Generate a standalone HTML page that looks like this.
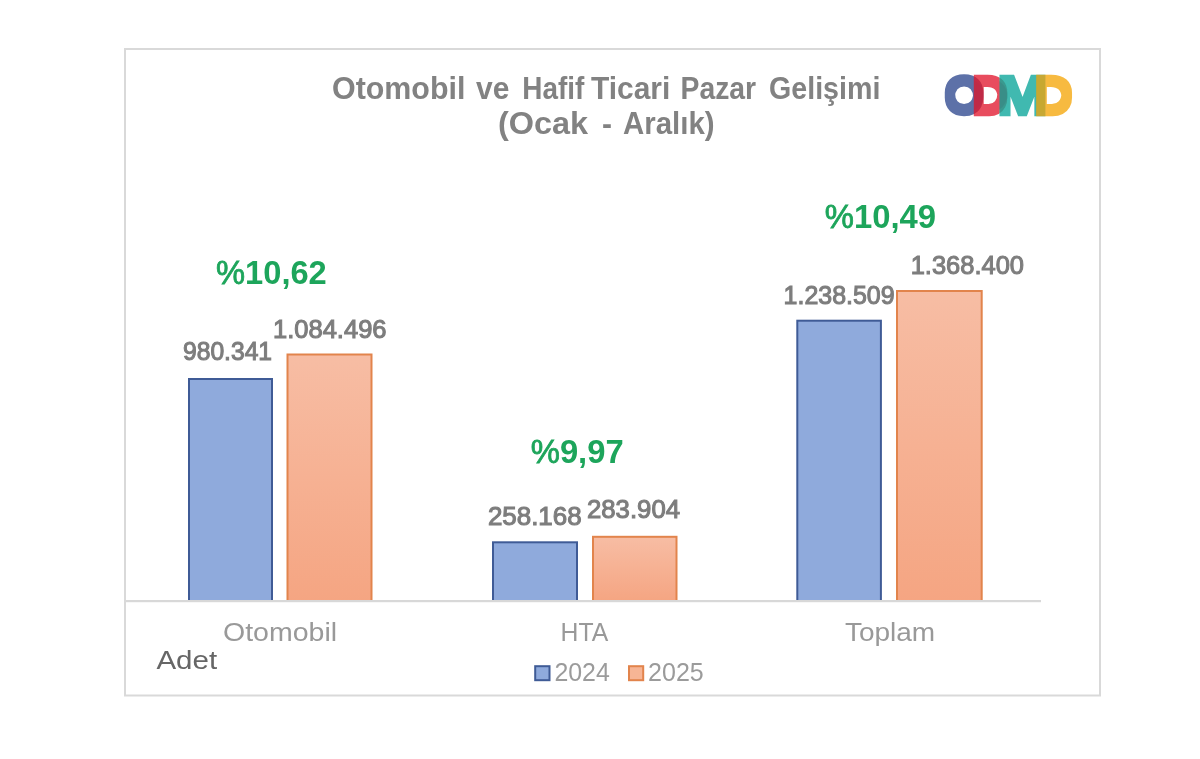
<!DOCTYPE html>
<html lang="tr">
<head>
<meta charset="utf-8">
<title>Otomobil ve Hafif Ticari Pazar Gelişimi</title>
<style>
html,body{margin:0;padding:0;background:#fff;}
body{width:1200px;height:759px;overflow:hidden;position:relative;font-family:"Liberation Sans",sans-serif;}
svg{position:absolute;left:0;top:0;display:block;filter:blur(.45px);}
text{font-family:"Liberation Sans",sans-serif;}
.title{font-weight:bold;font-size:31px;fill:#828282;}
.val{font-weight:normal;font-size:26.5px;fill:#7d7d7d;stroke:#7d7d7d;stroke-width:1.1px;}
.pct{font-weight:bold;font-size:33.5px;fill:#1da55b;}
.pc{font-weight:normal;stroke:#1da55b;stroke-width:.8px;}
.cat{font-size:26px;fill:#999999;}
.leg{font-size:26.5px;fill:#9b9b9b;}
.adet{font-size:25px;fill:#666666;}
.logo{font-weight:bold;font-size:49.2px;stroke-width:2.6px;stroke-linejoin:miter;}
.lo{fill:#5d71a8;stroke:#5d71a8;}
.ld1{fill:#e01626;stroke:#e01626;opacity:.75;}
.lm{fill:#00a296;stroke:#00a296;opacity:.75;}
.ld2{fill:#f4a306;stroke:#f4a306;opacity:.75;}
</style>
</head>
<body>
<svg width="1200" height="759" viewBox="0 0 1200 759">
  <defs>
    <linearGradient id="og" x1="0" y1="0" x2="0" y2="1">
      <stop offset="0" stop-color="#f7bda4"/>
      <stop offset="1" stop-color="#f5a582"/>
    </linearGradient>
    <filter id="fat" filterUnits="userSpaceOnUse" x="930" y="60" width="160" height="70">
      <feMorphology operator="dilate" radius="0 2"/>
    </filter>
  </defs>
  <rect x="0" y="0" width="1200" height="759" fill="#ffffff"/>
  <!-- frame -->
  <rect x="125" y="49" width="975" height="646.5" fill="#ffffff" stroke="#d9d9d9" stroke-width="2"/>

  <!-- bars -->
  <rect x="189" y="379" width="83" height="222" fill="#8faadc" stroke="#3f5b96" stroke-width="2"/>
  <rect x="287.5" y="354.5" width="84" height="246.5" fill="url(#og)" stroke="#e2844c" stroke-width="2"/>
  <rect x="493" y="542.3" width="84" height="58.7" fill="#8faadc" stroke="#3f5b96" stroke-width="2"/>
  <rect x="593" y="536.8" width="83.5" height="64.2" fill="url(#og)" stroke="#e2844c" stroke-width="2"/>
  <rect x="797.3" y="320.7" width="83.6" height="280.3" fill="#8faadc" stroke="#3f5b96" stroke-width="2"/>
  <rect x="897" y="291" width="84.7" height="310" fill="url(#og)" stroke="#e2844c" stroke-width="2"/>
  <!-- axis line -->
  <rect x="126" y="600" width="915" height="2.2" fill="#d8d8d8"/>

  <!-- legend swatches -->
  <rect x="535.2" y="666.2" width="14.3" height="14" fill="#8faadc" stroke="#3f5b96" stroke-width="2"/>
  <rect x="629" y="666.2" width="14.2" height="14" fill="#f7b595" stroke="#e2844c" stroke-width="2"/>

  <!-- text -->
  <text id="title1"><tspan id="t1" class="title" x="332.00" y="98.75" textLength="133.33" lengthAdjust="spacingAndGlyphs">Otomobil</tspan> <tspan id="t2" class="title" x="476.00" y="98.75" textLength="33.38" lengthAdjust="spacingAndGlyphs">ve</tspan> <tspan id="t3" class="title" x="522.25" y="98.75" textLength="61.98" lengthAdjust="spacingAndGlyphs">Hafif</tspan> <tspan id="t4" class="title" x="591.00" y="98.75" textLength="79.33" lengthAdjust="spacingAndGlyphs">Ticari</tspan> <tspan id="t5" class="title" x="680.50" y="98.75" textLength="75.62" lengthAdjust="spacingAndGlyphs">Pazar</tspan> <tspan id="t6" class="title" x="769.00" y="98.75" textLength="111.35" lengthAdjust="spacingAndGlyphs">Gelişimi</tspan></text>
  <text id="title2"><tspan id="u1" class="title" x="498.00" y="134.3" textLength="90.13" lengthAdjust="spacingAndGlyphs">(Ocak</tspan> <tspan id="u2" class="title" x="602.00" y="134.3" textLength="10.00" lengthAdjust="spacingAndGlyphs">-</tspan> <tspan id="u3" class="title" x="623.00" y="134.3" textLength="91.62" lengthAdjust="spacingAndGlyphs">Aralık)</tspan></text>
  <text id="v1" class="val" x="183.00" y="360" textLength="89.03" lengthAdjust="spacingAndGlyphs">980.341</text>
  <text id="v2" class="val" x="273.00" y="337.5" textLength="113.56" lengthAdjust="spacingAndGlyphs">1.084.496</text>
  <text id="v3" class="val" x="487.90" y="524.7" textLength="93.70" lengthAdjust="spacingAndGlyphs">258.168</text>
  <text id="v4" class="val" x="587.00" y="518" textLength="93.01" lengthAdjust="spacingAndGlyphs">283.904</text>
  <text id="v5" class="val" x="783.60" y="303.8" textLength="110.95" lengthAdjust="spacingAndGlyphs">1.238.509</text>
  <text id="v6" class="val" x="910.70" y="273.5" textLength="113.29" lengthAdjust="spacingAndGlyphs">1.368.400</text>
  <text id="p1" class="pct" x="216.00" y="283.75" textLength="110.81" lengthAdjust="spacingAndGlyphs"><tspan class="pc">%</tspan>10,62</text>
  <text id="p2" class="pct" x="530.75" y="463" textLength="92.88" lengthAdjust="spacingAndGlyphs"><tspan class="pc">%</tspan>9,97</text>
  <text id="p3" class="pct" x="824.80" y="227.5" textLength="111.27" lengthAdjust="spacingAndGlyphs"><tspan class="pc">%</tspan>10,49</text>
  <text id="c1" class="cat" x="223.00" y="641.3" textLength="114.08" lengthAdjust="spacingAndGlyphs">Otomobil</text>
  <text id="c2" class="cat" x="560.50" y="641.2" textLength="47.74" lengthAdjust="spacingAndGlyphs">HTA</text>
  <text id="c3" class="cat" x="844.90" y="640.8" textLength="90.31" lengthAdjust="spacingAndGlyphs">Toplam</text>
  <text id="a1" class="adet" x="156.40" y="669" textLength="60.70" lengthAdjust="spacingAndGlyphs">Adet</text>
  <text id="l1" class="leg" x="554.40" y="681.3" textLength="55.36" lengthAdjust="spacingAndGlyphs">2024</text>
  <text id="l2" class="leg" x="648.10" y="681.3" textLength="55.69" lengthAdjust="spacingAndGlyphs">2025</text>
  <text id="logo" filter="url(#fat)"><tspan id="g1" class="logo lo" x="944.10" y="112.7" textLength="40.30" lengthAdjust="spacingAndGlyphs">O</tspan><tspan id="g2" class="logo ld1" x="971.80" y="112.7" textLength="36.46" lengthAdjust="spacingAndGlyphs">D</tspan><tspan id="g3" class="logo lm" x="997.00" y="112.7" textLength="50.91" lengthAdjust="spacingAndGlyphs">M</tspan><tspan id="g4" class="logo ld2" x="1034.00" y="112.7" textLength="38.94" lengthAdjust="spacingAndGlyphs">D</tspan></text>
</svg>
</body>
</html>
